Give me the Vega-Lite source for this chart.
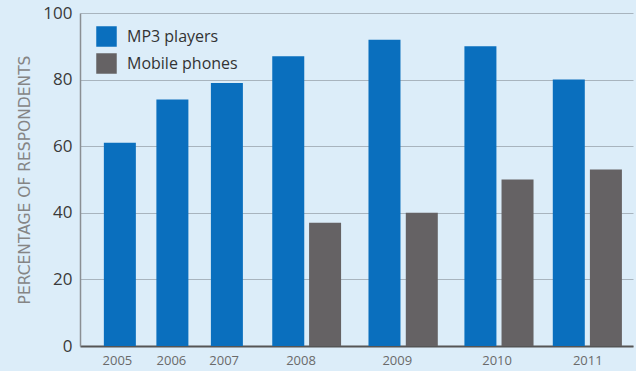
{
  "$schema": "https://vega.github.io/schema/vega-lite/v6.json",
  "autosize": "none",
  "width": 553,
  "height": 333,
  "padding": {"left": 80, "top": 13, "right": 3, "bottom": 25},
  "background": "#dcedf9",
  "config": {
    "view": {"stroke": null},
    "font": "Open Sans"
  },
  "datasets": {
    "bars": [
      {"year": "2005", "device": "MP3 players", "pos": 35.5, "pct": 61},
      {"year": "2006", "device": "MP3 players", "pos": 89, "pct": 74},
      {"year": "2007", "device": "MP3 players", "pos": 144.5, "pct": 79},
      {"year": "2008", "device": "MP3 players", "pos": 207, "pct": 87},
      {"year": "2008", "device": "Mobile phones", "pos": 244.5, "pct": 37},
      {"year": "2009", "device": "MP3 players", "pos": 305, "pct": 92},
      {"year": "2009", "device": "Mobile phones", "pos": 343, "pct": 40},
      {"year": "2010", "device": "MP3 players", "pos": 402.7, "pct": 90},
      {"year": "2010", "device": "Mobile phones", "pos": 440.5, "pct": 50},
      {"year": "2011", "device": "MP3 players", "pos": 492.7, "pct": 80},
      {"year": "2011", "device": "Mobile phones", "pos": 530.5, "pct": 53}
    ],
    "years": [
      {"year": "2005", "pos": 33},
      {"year": "2006", "pos": 88},
      {"year": "2007", "pos": 141.7},
      {"year": "2008", "pos": 220},
      {"year": "2009", "pos": 318},
      {"year": "2010", "pos": 419.7},
      {"year": "2011", "pos": 512}
    ]
  },
  "layer": [
    {
      "data": {"name": "bars"},
      "mark": {"type": "bar", "size": 32},
      "encoding": {
        "x": {
          "field": "pos",
          "type": "quantitative",
          "scale": {"domain": [0, 553], "nice": false, "zero": false},
          "axis": {
            "domain": true,
            "domainColor": "#555555",
            "domainWidth": 2,
            "grid": false,
            "ticks": false,
            "labels": false,
            "title": null
          }
        },
        "y": {
          "field": "pct",
          "type": "quantitative",
          "scale": {"domain": [0, 100], "nice": false},
          "axis": {
            "values": [0, 20, 40, 60, 80, 100],
            "domain": true,
            "domainColor": "#8a8f94",
            "domainWidth": 1.5,
            "ticks": false,
            "labelFontSize": 17,
            "labelColor": "#3a3a3a",
            "labelPadding": 8,
            "gridColor": "#a8b4be",
            "gridWidth": 1,
            "title": "PERCENTAGE OF RESPONDENTS",
            "titleFont": "DejaVu Sans",
            "titleFontSize": 15.5,
            "titleFontWeight": "normal",
            "titleColor": "#858585",
            "titlePadding": 10
          }
        },
        "color": {
          "field": "device",
          "type": "nominal",
          "scale": {"domain": ["MP3 players", "Mobile phones"], "range": ["#0a6fbe", "#656264"]},
          "legend": {
            "title": null,
            "orient": "none",
            "legendX": 16,
            "legendY": 13,
            "symbolType": "square",
            "symbolSize": 420,
            "symbolStrokeWidth": 0,
            "labelFontSize": 16,
            "labelColor": "#333333",
            "labelOffset": 10,
            "rowPadding": 6
          }
        }
      }
    },
    {
      "data": {"name": "years"},
      "mark": {"type": "text", "baseline": "top", "dy": 9, "fontSize": 13, "color": "#6a6a6a"},
      "encoding": {
        "x": {"field": "pos", "type": "quantitative"},
        "y": {"datum": 0},
        "text": {"field": "year"}
      }
    }
  ]
}
